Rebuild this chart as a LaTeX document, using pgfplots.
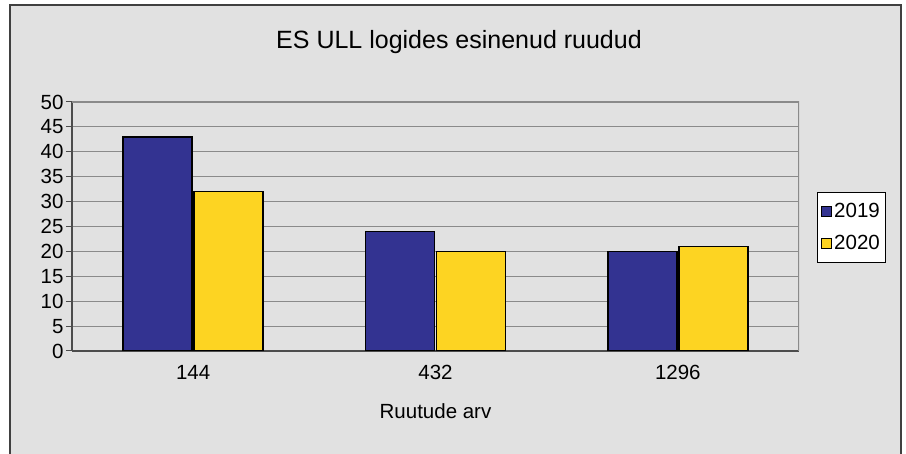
\documentclass[border=0pt]{standalone}
\usepackage{pgfplots}
\pgfplotsset{compat=1.18}
\usepackage{fontspec}
\setmainfont{Liberation Sans}
\definecolor{bgc}{HTML}{E1E1E1}
\definecolor{blu}{HTML}{333391}
\definecolor{yel}{HTML}{FDD422}
\definecolor{gridc}{HTML}{8A8A8A}
\begin{document}
\begin{tikzpicture}[x=1pt,y=1pt]
\useasboundingbox (0,0) rectangle (906,454);
\fill[white] (0,0) rectangle (906,454);
\fill[bgc] (10,0) rectangle (901,449);
\draw[black!75,line width=1.5pt] (10,0) -- (10,449) -- (901,449) -- (901,0);
\node[font=\fontsize{25}{28}\selectfont] at (459,412) {ES ULL logides esinenud ruudud};
\begin{axis}[
  at={(72pt,103pt)}, anchor=south west,
  scale only axis, width=727pt, height=249pt,
  ybar, bar width=69pt,
  ymin=0, ymax=50, ytick={0,5,...,50},
  xmin=-0.5, xmax=2.5,
  xtick={0,1,2}, xticklabels={144,432,1296},
  extra x ticks={-0.5,0.5,1.5,2.5}, extra x tick labels={},
  extra x tick style={major tick length=7pt, grid=none, tick style={black!70, line width=1pt}},
  major x tick style={draw=none},
  ymajorgrids, grid style={gridc, line width=1pt},
  axis line style={black!70, line width=1.2pt},
  axis x line*=bottom, axis y line*=left,
  y tick style={black!70, line width=1pt},
  tick align=outside, major tick length=6pt,
  tick label style={font=\fontsize{20.5}{22}\selectfont},
  yticklabel style={xshift=1pt},
  xticklabel style={yshift=-5pt},
  /pgf/number format/assume math mode=true,
  xlabel={Ruutude arv},
  xlabel style={font=\fontsize{20.5}{22}\selectfont, yshift=-4pt},
  axis background/.style={fill=bgc},
  legend style={at={(1.0248,0.6386)}, anchor=north west, font=\fontsize{20.5}{24}\selectfont,
    draw=black, fill=white, line width=0.8pt, inner xsep=4pt, inner ysep=9pt, row sep=12pt},
  legend image code/.code={\draw[#1, line width=0.8pt] (0pt,-5pt) rectangle (10pt,5pt);},
  legend cell align=left,
]
\draw[gridc, line width=1.2pt] (axis cs:-0.5,50) -- (axis cs:2.5,50) -- (axis cs:2.5,0);
\addplot[fill=blu, draw=black, line width=1.4pt] coordinates {(0,43) (1,24) (2,20)};
\addplot[fill=yel, draw=black, line width=1.4pt] coordinates {(0,32) (1,20) (2,21)};
\legend{2019,2020}
\end{axis}
\end{tikzpicture}
\end{document}
